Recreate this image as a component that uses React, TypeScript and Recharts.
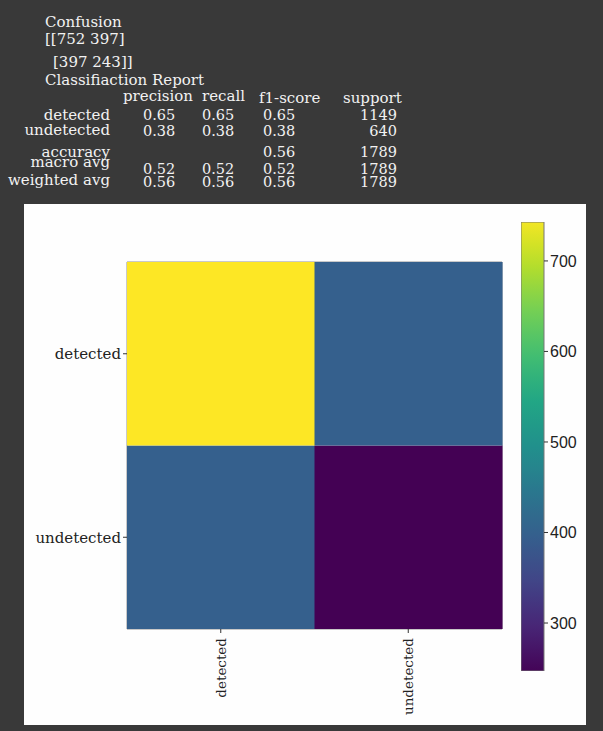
import React from "react";
import { BarChart, Bar, XAxis, YAxis, Cell, ReferenceArea } from "recharts";

// ---------- data ----------
const CLASSES = ["detected", "undetected"];
const CONFUSION = [
  [752, 397],
  [397, 243],
];
const REPORT_HEADERS = ["precision", "recall", "f1-score", "support"];
const REPORT_LABELS = ["detected", "undetected", "accuracy", "macro avg", "weighted avg"];
const PRECISION = ["0.65", "0.38", "", "0.52", "0.56"];
const RECALL = ["0.65", "0.38", "", "0.52", "0.56"];
const F1 = ["0.65", "0.38", "0.56", "0.52", "0.56"];
const SUPPORT = ["1149", "640", "1789", "1789", "1789"];
const COLORBAR_TICKS = [300, 400, 500, 600, 700];
const COLORBAR_DOMAIN = [247, 743];

// ---------- colour map ----------
const VIRIDIS = [
  "#440154", "#482475", "#414487", "#355f8d", "#2a788e", "#21918c",
  "#22a884", "#44bf70", "#7ad151", "#bddf26", "#fde725",
];
const hex = (h: string) => [1, 3, 5].map((i) => parseInt(h.slice(i, i + 2), 16));
function viridis(t: number) {
  const c = Math.max(0, Math.min(1, t)) * (VIRIDIS.length - 1);
  const i = Math.min(Math.floor(c), VIRIDIS.length - 2);
  const f = c - i;
  const a = hex(VIRIDIS[i]);
  const b = hex(VIRIDIS[i + 1]);
  const m = a.map((v, k) => Math.round(v + (b[k] - v) * f));
  return `rgb(${m[0]},${m[1]},${m[2]})`;
}
const allVals = CONFUSION.flat();
const VMIN = Math.min(...allVals);
const VMAX = Math.max(...allVals);
const colorFor = (v: number) => viridis((v - VMIN) / (VMAX - VMIN));

const N = CLASSES.length;
const heatData = CLASSES.map((col) => {
  const row: any = { col };
  CLASSES.forEach((_, i) => (row[`r${i}`] = 1));
  return row;
});
const rowOrder = CLASSES.map((_, i) => N - 1 - i); // bottom row first in the stack

const cbData = [{ k: "cb", range: COLORBAR_DOMAIN }];
const cbStops = Array.from({ length: 21 }, (_, i) => {
  const v = COLORBAR_DOMAIN[1] - (i / 20) * (COLORBAR_DOMAIN[1] - COLORBAR_DOMAIN[0]);
  return { offset: i / 20, color: colorFor(v) };
});

const SERIF = "'DejaVu Serif', serif";
const SANS = "'Liberation Sans', Arial, sans-serif";

const RotatedTick = (props: any) => {
  const { x, y, payload } = props;
  return (
    <text
      x={x}
      y={y}
      transform={`rotate(-90, ${x}, ${y})`}
      textAnchor="end"
      dominantBaseline="central"
      fontFamily={SERIF}
      fontSize={13.5}
      fill="#222"
    >
      {payload.value}
    </text>
  );
};

// text layout (styles)
const LABEL_RIGHT = 110;
const LABEL_BASE = [120, 135, 157, 167, 185];
const VALUE_BASE = [120, 136, 157, 174, 187];
const COL_X = [143, 202, 263];
const SUPPORT_RIGHT = 397;
const HEADER_X = [123, 202, 259, 343];
const HEADER_BASE = [101, 101, 103, 103];

export default function App() {
  const txt = { fontFamily: SERIF, fontSize: 15, fill: "#f2f2f2" } as const;
  const num = { fontFamily: SERIF, fontSize: 14.5, fill: "#f2f2f2" } as const;
  return (
    <div
      style={{
        position: "absolute",
        left: 0,
        top: 0,
        width: 603,
        height: 731,
        background: "#393939",
        overflow: "hidden",
      }}
    >
      <svg width={603} height={200} style={{ position: "absolute", left: 0, top: 0 }}>
        <text x={45} y={27} {...txt}>Confusion</text>
        <text x={45} y={44} {...txt}>{`[[${CONFUSION[0].join(" ")}]`}</text>
        <text x={53} y={67} {...txt}>{`[${CONFUSION[1].join(" ")}]]`}</text>
        <text x={45} y={85} {...txt}>Classifiaction Report</text>
        {REPORT_HEADERS.map((h, k) => (
          <text key={h} x={HEADER_X[k]} y={HEADER_BASE[k]} {...txt}>{h}</text>
        ))}
        {REPORT_LABELS.map((lab, r) => (
          <g key={lab}>
            <text x={LABEL_RIGHT} y={LABEL_BASE[r]} textAnchor="end" {...txt}>{lab}</text>
            {[PRECISION[r], RECALL[r], F1[r]].map((v, k) =>
              v ? (
                <text key={k} x={COL_X[k]} y={VALUE_BASE[r]} {...num}>{v}</text>
              ) : null
            )}
            <text x={SUPPORT_RIGHT} y={VALUE_BASE[r]} textAnchor="end" {...num}>{SUPPORT[r]}</text>
          </g>
        ))}
      </svg>

      <div
        style={{
          position: "absolute",
          left: 24,
          top: 204,
          width: 562,
          height: 521,
          background: "#fefefe",
        }}
      />

      <div style={{ position: "absolute", left: 24, top: 204 }}>
        <BarChart
          width={500}
          height={522}
          data={heatData}
          margin={{ top: 58, right: 22, bottom: 0, left: 0 }}
          barCategoryGap={0}
          barGap={0}
        >
          <XAxis
            dataKey="col"
            type="category"
            height={97}
            tickSize={4}
            tickMargin={5}
            interval={0}
            axisLine={false}
            tickLine={{ stroke: "#333" }}
            tick={<RotatedTick />}
          />
          <YAxis
            type="number"
            domain={[0, N]}
            ticks={CLASSES.map((_, i) => N - i - 0.5)}
            tickFormatter={(v: number) => CLASSES[Math.round(N - 0.5 - v)]}
            width={103}
            tickSize={4}
            tickMargin={2}
            axisLine={false}
            tickLine={{ stroke: "#333" }}
            tick={{ fontFamily: SERIF, fontSize: 15, fill: "#222" }}
            allowDataOverflow
          />
          {rowOrder.map((i) => (
            <Bar key={i} dataKey={`r${i}`} stackId="m" isAnimationActive={false}>
              {CLASSES.map((_, j) => (
                <Cell key={j} fill={colorFor(CONFUSION[i][j])} />
              ))}
            </Bar>
          ))}
          <ReferenceArea
            x1={CLASSES[0]}
            x2={CLASSES[N - 1]}
            y1={0}
            y2={N}
            fill="none"
            stroke="#666"
            strokeOpacity={0.7}
            ifOverflow="visible"
          />
        </BarChart>
      </div>

      <div style={{ position: "absolute", left: 521, top: 212 }}>
        <BarChart
          width={70}
          height={469}
          data={cbData}
          margin={{ top: 10, right: 0, bottom: 10, left: 0 }}
          barCategoryGap={0}
        >
          <defs>
            <linearGradient id="cbGrad" x1="0" y1="0" x2="0" y2="1">
              {cbStops.map((s, i) => (
                <stop key={i} offset={s.offset} stopColor={s.color} />
              ))}
            </linearGradient>
          </defs>
          <XAxis dataKey="k" hide />
          <YAxis
            orientation="right"
            type="number"
            domain={COLORBAR_DOMAIN}
            ticks={COLORBAR_TICKS}
            width={47}
            tickSize={4}
            tickMargin={2}
            axisLine={false}
            tickLine={{ stroke: "#333" }}
            tick={{ fontFamily: SANS, fontSize: 16, fill: "#222" }}
            allowDataOverflow
          />
          <Bar
            dataKey="range"
            fill="url(#cbGrad)"
            stroke="#777"
            strokeWidth={1}
            isAnimationActive={false}
          />
        </BarChart>
      </div>
    </div>
  );
}
